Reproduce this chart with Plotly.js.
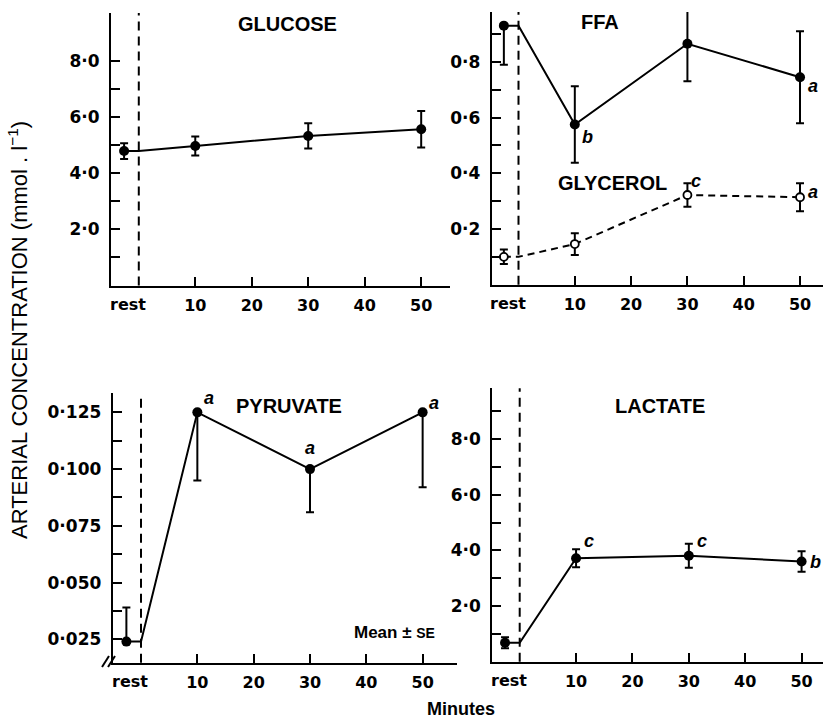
<!DOCTYPE html>
<html>
<head>
<meta charset="utf-8">
<script src="https://cdn.plot.ly/plotly-3.0.1.min.js"></script>
<style>html,body{margin:0;padding:0;background:#fff}#chart{width:825px;height:720px}</style>
</head>
<body>
<div id="chart"></div>
<script>
// ---------- data ----------
const times = ['rest', 10, 30, 50];
const xTickVals = [10, 20, 30, 40, 50];
const xTickText = ['10', '20', '30', '40', '50'];
const restLabel = 'rest';

const glucoseMean = [4.80, 4.98, 5.34, 5.58];
const glucoseSE   = [0.28, 0.34, 0.45, 0.65];

const ffaMean   = [0.930, 0.575, 0.865, 0.745];
const ffaSEup   = [0.000, 0.137, 0.135, 0.165];
const ffaSEdown = [0.140, 0.137, 0.135, 0.165];
const ffaSig    = ['', 'b', '', 'a'];

const glycerolMean = [0.100, 0.146, 0.322, 0.314];
const glycerolSE   = [0.026, 0.039, 0.042, 0.050];
const glycerolSig  = ['', '', 'c', 'a'];

const pyruvateMean   = [0.024, 0.125, 0.100, 0.125];
const pyruvateSEup   = [0.015, 0.000, 0.000, 0.000];
const pyruvateSEdown = [0.000, 0.030, 0.019, 0.033];
const pyruvateSig    = ['', 'a', 'a', 'a'];

const lactateMean = [0.68, 3.72, 3.81, 3.60];
const lactateSE   = [0.20, 0.32, 0.43, 0.37];
const lactateSig  = ['', 'c', 'c', 'b'];

const glucoseTicks  = [2, 4, 6, 8];
const glucoseLabels = ['2·0', '4·0', '6·0', '8·0'];
const glucoseMinor  = [1, 3, 5, 7];
const ffaTicks  = [0.2, 0.4, 0.6, 0.8];
const ffaLabels = ['0·2', '0·4', '0·6', '0·8'];
const ffaMinor  = [0.1, 0.3, 0.5, 0.7, 0.9];
const pyruvateTicks  = [0.025, 0.05, 0.075, 0.1, 0.125];
const pyruvateLabels = ['0·025', '0·050', '0·075', '0·100', '0·125'];
const pyruvateMinor  = [0.0375, 0.0625, 0.0875, 0.1125];
const lactateTicks  = [2, 4, 6, 8];
const lactateLabels = ['2·0', '4·0', '6·0', '8·0'];
const lactateMinor  = [1, 3, 5, 7, 9];

const panelTitles = ['GLUCOSE', 'FFA', 'GLYCEROL', 'PYRUVATE', 'LACTATE'];
const yTitle = 'ARTERIAL CONCENTRATION (mmol . l<sup>−1</sup>)';
const xTitle = 'Minutes';
const noteText = 'Mean ± <span style="font-size:14px">SE</span>';

// ---------- layout helpers ----------
const W = 825, H = 720;
const FONT = '"Liberation Sans", Arial, sans-serif';
const TICKFONT = '"DejaVu Sans", "Liberation Sans", sans-serif';
const restPos = -2.6;
const px = v => v / W;
const py = v => 1 - v / H;
const xs = times.map(t => t === 'rest' ? restPos : t);

function xAxis(left, right, range, anchor) {
  return {
    domain: [px(left), px(right)], range: range, anchor: anchor,
    tickmode: 'array', tickvals: xTickVals, ticktext: xTickText,
    ticks: 'inside', ticklen: 9, tickwidth: 2, tickcolor: '#000',
    showline: true, linewidth: 2, linecolor: '#000',
    showgrid: false, zeroline: false, ticklabelstandoff: 4,
    tickfont: {family: TICKFONT, size: 16, color: '#000', weight: 'bold'}
  };
}
function yAxis(top, bottom, range, anchor, vals, text, minorVals) {
  return {
    domain: [py(bottom), py(top)], range: range, anchor: anchor,
    tickmode: 'array', tickvals: vals, ticktext: text,
    ticks: 'inside', ticklen: 9, tickwidth: 2, tickcolor: '#000',
    minor: {tickmode: 'array', tickvals: minorVals, ticks: 'inside', ticklen: 9,
            tickwidth: 2, tickcolor: '#000', showgrid: false},
    showline: true, linewidth: 2, linecolor: '#000',
    showgrid: false, zeroline: false, ticklabelstandoff: 6,
    tickfont: {family: TICKFONT, size: 17, color: '#000', weight: 'bold'}
  };
}

function lineTrace(mean, ax, dash) {
  return {
    x: [xs[0], 0].concat(xs.slice(1)),
    y: [mean[0]].concat(mean),
    xaxis: ax[0], yaxis: ax[1], mode: 'lines', hoverinfo: 'skip',
    line: {color: '#000', width: 2, dash: dash || 'solid'}
  };
}
function markerTrace(mean, up, down, ax, open) {
  return {
    x: xs, y: mean, xaxis: ax[0], yaxis: ax[1], mode: 'markers', cliponaxis: false,
    marker: open ? {symbol: 'circle', size: 8, color: '#fff', line: {color: '#000', width: 1.8}}
                 : {symbol: 'circle', size: 10, color: '#000'},
    error_y: {type: 'data', symmetric: false, array: up, arrayminus: down,
              color: '#000', thickness: 2, width: 4}
  };
}

const data = [
  lineTrace(glucoseMean, ['x', 'y']),
  markerTrace(glucoseMean, glucoseSE, glucoseSE, ['x', 'y']),
  lineTrace(ffaMean, ['x2', 'y2']),
  markerTrace(ffaMean, ffaSEup, ffaSEdown, ['x2', 'y2']),
  lineTrace(glycerolMean, ['x2', 'y2'], '7px,5px'),
  markerTrace(glycerolMean, glycerolSE, glycerolSE, ['x2', 'y2'], true),
  lineTrace(pyruvateMean, ['x3', 'y3']),
  markerTrace(pyruvateMean, pyruvateSEup, pyruvateSEdown, ['x3', 'y3']),
  lineTrace(lactateMean, ['x4', 'y4']),
  markerTrace(lactateMean, lactateSE, lactateSE, ['x4', 'y4'])
];

const annotations = [];
const shapes = [];
const txt = (text, x, y, size, extra) => Object.assign({
  text: text, x: px(x), y: py(y), xref: 'paper', yref: 'paper',
  showarrow: false, xanchor: 'center', yanchor: 'middle',
  font: {family: FONT, size: size, color: '#000', weight: 'bold'}
}, extra || {});

// panel titles
annotations.push(txt(panelTitles[0], 287, 24, 20));
annotations.push(txt(panelTitles[1], 600, 22, 20));
annotations.push(txt(panelTitles[2], 612, 183, 20));
annotations.push(txt(panelTitles[3], 289, 406, 20));
annotations.push(txt(panelTitles[4], 660, 406, 20));
annotations.push(txt(yTitle, 18, 330, 22, {textangle: -90, font: {family: FONT, size: 22, color: '#000'}}));
annotations.push(txt(xTitle, 461, 709, 18));
annotations.push(txt(noteText, 394, 632, 17));

// rest labels and dashed "start" lines
['', '2', '3', '4'].forEach(s => {
  annotations.push({
    text: restLabel, x: restPos, y: 0, xref: 'x' + s, yref: 'y' + s + ' domain',
    xshift: 4, yshift: -7, showarrow: false, xanchor: 'center', yanchor: 'top',
    font: {family: TICKFONT, size: 16, color: '#000', weight: 'bold'}
  });
  shapes.push({
    type: 'line', xref: 'x' + s, yref: 'y' + s + ' domain', x0: 0, x1: 0, y0: 0, y1: 1,
    line: {color: '#000', width: 2, dash: '9px,6px'}
  });
});

// significance letters
function sig(letters, mean, ax, offsets) {
  letters.forEach((l, i) => {
    if (!l) return;
    annotations.push({
      text: '<i>' + l + '</i>', x: xs[i], y: mean[i], xref: ax[0], yref: ax[1],
      xshift: offsets[i][0], yshift: offsets[i][1], showarrow: false,
      font: {family: FONT, size: 18, color: '#000', weight: 'bold'}
    });
  });
}
sig(ffaSig, ffaMean, ['x2', 'y2'], [[0, 0], [13, -12], [0, 0], [13, -9]]);
sig(glycerolSig, glycerolMean, ['x2', 'y2'], [[0, 0], [0, 0], [9, 14], [13, 5]]);
sig(pyruvateSig, pyruvateMean, ['x3', 'y3'], [[0, 0], [12, 14], [0, 21], [11, 9]]);
sig(lactateSig, lactateMean, ['x4', 'y4'], [[0, 0], [13, 17], [13, 15], [14, 0]]);

// axis break marks on pyruvate y axis
[[-4, 0], [2, 0]].forEach(o => {
  shapes.push({
    type: 'line', xref: 'paper', yref: 'paper',
    x0: px(106 + o[0]), y0: py(667), x1: px(113 + o[0]), y1: py(656),
    line: {color: '#000', width: 2}
  });
});

const layout = {
  width: W, height: H, margin: {l: 0, r: 0, t: 0, b: 0},
  paper_bgcolor: '#fff', plot_bgcolor: 'rgba(0,0,0,0)', showlegend: false,
  font: {family: FONT, color: '#000'},
  xaxis:  xAxis(111, 450, [-4.92, 55.1], 'y'),
  yaxis:  yAxis(13, 285.5, [0, 9.73], 'x', glucoseTicks, glucoseLabels, glucoseMinor),
  xaxis2: xAxis(491.7, 823, [-4.76, 54.08], 'y2'),
  yaxis2: yAxis(12, 284.7, [0, 0.979], 'x2', ffaTicks, ffaLabels, ffaMinor),
  xaxis3: xAxis(112.7, 457, [-5.03, 56.1], 'y3'),
  yaxis3: yAxis(393.3, 662.7, [0.0147, 0.1334], 'x3', pyruvateTicks, pyruvateLabels, pyruvateMinor),
  xaxis4: xAxis(492.3, 823, [-4.86, 53.8], 'y4'),
  yaxis4: yAxis(388.3, 661.7, [0, 9.83], 'x4', lactateTicks, lactateLabels, lactateMinor),
  annotations: annotations, shapes: shapes
};

Plotly.newPlot('chart', data, layout, {displayModeBar: false, staticPlot: true});
</script>
</body>
</html>
